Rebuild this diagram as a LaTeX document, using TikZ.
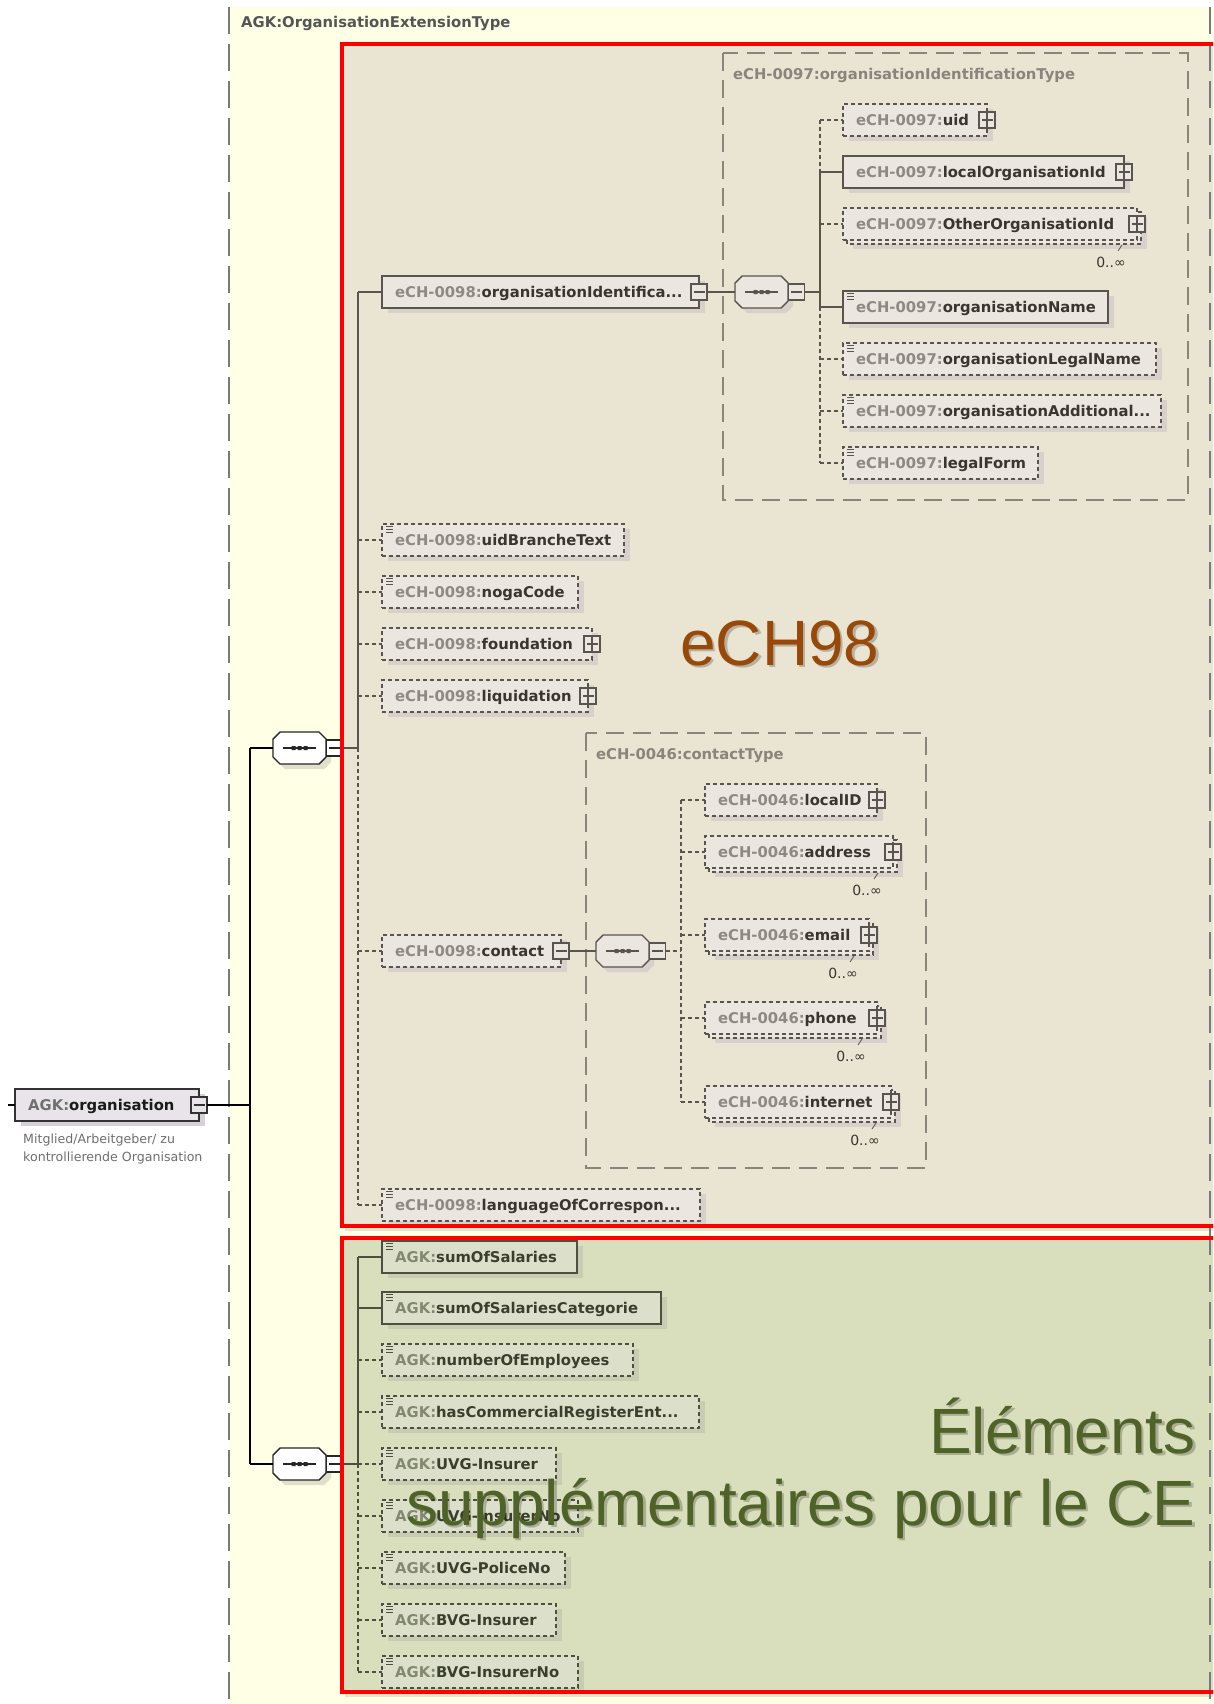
\documentclass[tikz,border=0pt]{standalone}
\usepackage{fontspec}
\setmainfont{DejaVu Sans}
\newfontfamily\slidefont{Liberation Sans}
\usetikzlibrary{calc}

\definecolor{yellowbg}{HTML}{FFFFE6}
\definecolor{beigebg}{HTML}{EAE4D2}
\definecolor{greenbg}{HTML}{D9DEBD}
\definecolor{markred}{HTML}{FF0000}
\definecolor{echbrown}{HTML}{984807}
\definecolor{olivetext}{HTML}{4F6228}
\definecolor{outerdash}{HTML}{7A7A7A}
\definecolor{typeline}{HTML}{8A847D}
\definecolor{titlecol}{HTML}{555555}
\definecolor{desccol}{HTML}{6E6E6E}
% element colours, redefined for each area
\definecolor{elfill}{HTML}{E8E4EA}
\definecolor{elshadow}{HTML}{D6D0D8}
\definecolor{elborder}{HTML}{333333}
\definecolor{elpfx}{HTML}{707070}
\definecolor{elname}{HTML}{1A1A1A}
\definecolor{elline}{HTML}{000000}

% element box without shadow
\newcommand{\xelembody}[8]{%
  \node[elbox,#6,minimum width=#4pt-#2pt,minimum height=#5pt-#3pt,anchor=north west] (#1) at (#2,#3) {};
  \node[eltext,anchor=base west] (#1-txt) at ($(#1.west)+(13,5.4)$) {\textcolor{elpfx}{#7}\textcolor{elname}{#8}};
}
% element box with shadow
\newcommand{\xelem}[8]{%
  \fill[elshadow] (#2+6,#3+5) rectangle (#4+6,#5+5);
  \xelembody{#1}{#2}{#3}{#4}{#5}{#6}{#7}{#8}%
}
% repeated element (0..unbounded)
\newcommand{\xelemS}[8]{%
  \fill[elshadow] (#2+10,#3+9) rectangle (#4+10,#5+9);
  \draw[elbox,#6] (#2+4,#3+4) rectangle (#4+4,#5+4);
  \xelembody{#1}{#2}{#3}{#4}{#5}{#6}{#7}{#8}%
  \node[occ] (#1-occ) at (#4-26,#5+22) {0..∞};
  \draw[elborder,line width=0.8pt] (#4-15,#5+5) -- (#4-19,#5+11);
}
\newcommand{\xplus}[1]{\node[plusbox] (#1-pm) at (#1.east) {};}
\newcommand{\xminus}[1]{\node[minusbox] (#1-pm) at (#1.east) {};}
\newcommand{\xdoc}[1]{\draw[elborder,line width=1pt]
  ($(#1.north west)+(4,2.5)$) -- +(7,0) ($(#1.north west)+(4,5.5)$) -- +(7,0)
  ($(#1.north west)+(4,8.5)$) -- +(7,0);}
% sequence compositor
\newcommand{\xcompo}[3]{%
  \begin{scope}[shift={(#2,#3)}]
    \fill[elshadow] (12,-11) -- (51,-11) -- (58,-4) -- (58,14) -- (51,21) -- (12,21) -- (5,14) -- (5,-4) -- cycle;
    \filldraw[fill=elfill,draw=elborder,line width=1.4pt] (7,-16) -- (46,-16) -- (53,-9) -- (53,9) -- (46,16) -- (7,16) -- (0,9) -- (0,-9) -- cycle;
    \draw[elborder,line width=1.3pt] (10,0) -- (43,0);
    \fill[elborder] (18.5,-2) rectangle (22.5,2) (24.5,-2) rectangle (28.5,2) (30.5,-2) rectangle (34.5,2);
  \end{scope}
  \node[inner sep=0pt,outer sep=0pt,minimum width=53pt,minimum height=32pt] (#1) at (#2+26.5,#3) {};
  \node[minusbox] (#1-pm) at (#2+61.5,#3) {};
}

\begin{document}
\begin{tikzpicture}[x=1pt,y=-1pt,
  elbox/.style={fill=elfill,draw=elborder,line width=1.4pt,inner sep=0pt,outer sep=0pt},
  dashbd/.style={dash pattern=on 4pt off 3pt},
  eltext/.style={inner sep=0pt,font=\fontsize{14.8}{17}\selectfont\bfseries},
  conn/.style={draw=elline,line width=1.3pt},
  dconn/.style={conn,dash pattern=on 4pt off 3pt},
  typebox/.style={draw=typeline,line width=1.4pt,dash pattern=on 18pt off 9pt},
  typetitle/.style={inner sep=0pt,anchor=base west,text=typeline,font=\fontsize{14.8}{17}\selectfont\bfseries},
  pmbox/.style={draw=elborder,fill=elfill,line width=1.1pt,minimum size=16pt,inner sep=0pt,outer sep=0pt},
  plusbox/.style={pmbox,path picture={\draw[elborder,line width=1.1pt]
      ($(path picture bounding box.west)+(2.5,0)$) -- ($(path picture bounding box.east)+(-2.5,0)$)
      (path picture bounding box.north) -- (path picture bounding box.south);}},
  minusbox/.style={pmbox,path picture={\draw[elborder,line width=1.1pt]
      ($(path picture bounding box.west)+(2.5,0)$) -- ($(path picture bounding box.east)+(-2.5,0)$);}},
  occ/.style={inner sep=0pt,text=elname,font=\fontsize{14}{16}\selectfont},
  outerdashed/.style={draw=outerdash,line width=1.5pt,dash pattern=on 27pt off 10pt},
  redframe/.style={draw=markred,line width=4pt},
  slidetext/.style={inner sep=0pt,font=\slidefont\fontsize{64}{72}\selectfont},
]
\useasboundingbox (0,0) rectangle (1213,1704);
\clip (0,0) rectangle (1213,1704);
\fill[white] (0,0) rectangle (1213,1704);

% complex type area
\fill[yellowbg] (229,7) rectangle (1213,1704);
\coordinate (ldtop) at (229,7);
\coordinate (ldbot) at (229,1704);
\draw[outerdashed] (ldtop) -- (ldbot);
\node[inner sep=0pt,anchor=base west,text=titlecol,font=\fontsize{14.8}{17}\selectfont\bfseries] (typename) at (241,27.5) {AGK:OrganisationExtensionType};

% highlighted groups
\fill[black,opacity=0.1] (345,47) rectangle (1230,1231);
\fill[beigebg] (342,44) rectangle (1230,1226);
\fill[black,opacity=0.1] (345,1241) rectangle (1230,1697);
\fill[greenbg] (342,1237.5) rectangle (1230,1692);

% ---------- root element and outer sequences ----------
\begin{scope}
\xelem{org}{15}{1089}{199}{1121}{}{AGK:}{organisation}
\xminus{org}
\node[inner sep=0pt,anchor=north west,align=left,text=desccol,font=\fontsize{12.6}{18}\selectfont] (orgdoc) at (23,1134) {Mitglied/Arbeitgeber/ zu\\kontrollierende Organisation};
\colorlet{elfill}{white}
\colorlet{elborder}{black!85}
\colorlet{elshadow}{black!12!yellowbg}
\xcompo{seqA}{273}{748}
\xcompo{seqD}{273}{1464}
\coordinate (TM) at (250,0);
\coordinate (orgstub) at (8,1105);
\draw[conn] (orgstub) -- (org.west);
\draw[conn] (org-pm.east) -- (org-pm.east -| TM);
\draw[conn] (seqA.west -| TM) -- (seqD.west -| TM);
\draw[conn] (seqA.west -| TM) -- (seqA.west);
\draw[conn] (seqD.west -| TM) -- (seqD.west);
\end{scope}

% ---------- eCH-0098 part ----------
\begin{scope}
\definecolor{elfill}{HTML}{EBE6E0}
\definecolor{elshadow}{HTML}{D8D0CB}
\definecolor{elborder}{HTML}{5A544E}
\definecolor{elpfx}{HTML}{8E8984}
\definecolor{elname}{HTML}{3A3530}
\definecolor{elline}{HTML}{5A544E}

\draw[typebox] (723,53) rectangle (1188,500);
\node[typetitle] (oidtype) at (733,79.3) {eCH-0097:organisationIdentificationType};
\draw[typebox] (586,733) rectangle (926,1168);
\node[typetitle] (contacttype) at (596,759.3) {eCH-0046:contactType};

\xelem{oid}{382}{276}{699}{308}{}{eCH-0098:}{organisationIdentifica...}
\xminus{oid}
\xelem{ubt}{382}{524}{624}{556}{dashbd}{eCH-0098:}{uidBrancheText}
\xdoc{ubt}
\xelem{noga}{382}{576}{578}{608}{dashbd}{eCH-0098:}{nogaCode}
\xdoc{noga}
\xelem{found}{382}{628}{592}{660}{dashbd}{eCH-0098:}{foundation}
\xplus{found}
\xelem{liq}{382}{680}{588}{712}{dashbd}{eCH-0098:}{liquidation}
\xplus{liq}
\xelem{contact}{382}{935}{561}{967}{dashbd}{eCH-0098:}{contact}
\xminus{contact}
\xelem{lang}{382}{1189}{700}{1221}{dashbd}{eCH-0098:}{languageOfCorrespon...}
\xdoc{lang}

% organisation identification
\xcompo{seqB}{735}{292}
\xelem{uid}{843}{104}{987}{136}{dashbd}{eCH-0097:}{uid}
\xplus{uid}
\xelem{locid}{843}{156}{1124}{188}{}{eCH-0097:}{localOrganisationId}
\xplus{locid}
\xelemS{othid}{843}{208}{1137}{240}{dashbd}{eCH-0097:}{OtherOrganisationId}
\xplus{othid}
\xelem{oname}{843}{291}{1108}{323}{}{eCH-0097:}{organisationName}
\xdoc{oname}
\xelem{lname}{843}{343}{1156}{375}{dashbd}{eCH-0097:}{organisationLegalName}
\xdoc{lname}
\xelem{aname}{843}{395}{1161}{427}{dashbd}{eCH-0097:}{organisationAdditional...}
\xdoc{aname}
\xelem{lform}{843}{447}{1038}{479}{dashbd}{eCH-0097:}{legalForm}
\xdoc{lform}

% contact
\xcompo{seqC}{596}{951}
\xelem{cid}{705}{784}{877}{816}{dashbd}{eCH-0046:}{localID}
\xplus{cid}
\xelemS{addr}{705}{836}{893}{868}{dashbd}{eCH-0046:}{address}
\xplus{addr}
\xelemS{email}{705}{919}{869}{951}{dashbd}{eCH-0046:}{email}
\xplus{email}
\xelemS{phone}{705}{1002}{877}{1034}{dashbd}{eCH-0046:}{phone}
\xplus{phone}
\xelemS{inet}{705}{1086}{891}{1118}{dashbd}{eCH-0046:}{internet}
\xplus{inet}

% connectors of the first sequence
\coordinate (TA) at (358,0);
\draw[conn] (oid.west -| TA) -- (seqA-pm.east -| TA);
\draw[dconn] (seqA-pm.east -| TA) -- (lang.west -| TA);
\draw[conn] (seqA-pm.east) -- (seqA-pm.east -| TA);
\draw[conn] (oid.west -| TA) -- (oid.west);
\foreach \e in {ubt,noga,found,liq,contact,lang}
  \draw[dconn] (\e.west -| TA) -- (\e.west);

% connectors of organisation identification
\draw[conn] (oid-pm.east) -- (seqB.west);
\coordinate (TB) at (820,0);
\draw[dconn] (uid.west -| TB) -- (locid.west -| TB);
\draw[conn] (locid.west -| TB) -- (oname.west -| TB);
\draw[dconn] (oname.west -| TB) -- (lform.west -| TB);
\draw[conn] (seqB-pm.east) -- (seqB-pm.east -| TB);
\draw[conn] (locid.west -| TB) -- (locid.west);
\draw[conn] (oname.west -| TB) -- (oname.west);
\foreach \e in {uid,othid,lname,aname,lform}
  \draw[dconn] (\e.west -| TB) -- (\e.west);

% connectors of contact
\draw[conn] (contact-pm.east) -- (seqC.west);
\coordinate (TC) at (681,0);
\draw[dconn] (cid.west -| TC) -- (inet.west -| TC);
\draw[dconn] (seqC-pm.east) -- (seqC-pm.east -| TC);
\foreach \e in {cid,addr,email,phone,inet}
  \draw[dconn] (\e.west -| TC) -- (\e.west);
\end{scope}

% ---------- additional AGK elements ----------
\begin{scope}
\definecolor{elfill}{HTML}{DCDFC9}
\definecolor{elshadow}{HTML}{C8CCB3}
\definecolor{elborder}{HTML}{4C513E}
\definecolor{elpfx}{HTML}{838970}
\definecolor{elname}{HTML}{3A3F2D}
\definecolor{elline}{HTML}{4C513E}

\xelem{sos}{382}{1241}{577}{1273}{}{AGK:}{sumOfSalaries}
\xdoc{sos}
\xelem{sosc}{382}{1292}{661}{1324}{}{AGK:}{sumOfSalariesCategorie}
\xdoc{sosc}
\xelem{noe}{382}{1344}{633}{1376}{dashbd}{AGK:}{numberOfEmployees}
\xdoc{noe}
\xelem{hcr}{382}{1396}{699}{1428}{dashbd}{AGK:}{hasCommercialRegisterEnt...}
\xdoc{hcr}
\xelem{uvgi}{382}{1448}{556}{1480}{dashbd}{AGK:}{UVG-Insurer}
\xdoc{uvgi}
\xelem{uvgn}{382}{1500}{578}{1532}{dashbd}{AGK:}{UVG-InsurerNo}
\xdoc{uvgn}
\xelem{uvgp}{382}{1552}{565}{1584}{dashbd}{AGK:}{UVG-PoliceNo}
\xdoc{uvgp}
\xelem{bvgi}{382}{1604}{556}{1636}{dashbd}{AGK:}{BVG-Insurer}
\xdoc{bvgi}
\xelem{bvgn}{382}{1656}{578}{1688}{dashbd}{AGK:}{BVG-InsurerNo}
\xdoc{bvgn}

\coordinate (TD) at (358,0);
\draw[conn] (sos.west -| TD) -- (seqD-pm.east -| TD);
\draw[dconn] (seqD-pm.east -| TD) -- (bvgn.west -| TD);
\draw[conn] (seqD-pm.east) -- (seqD-pm.east -| TD);
\draw[conn] (sos.west -| TD) -- (sos.west);
\draw[conn] (sosc.west -| TD) -- (sosc.west);
\foreach \e in {noe,hcr,uvgi,uvgn,uvgp,bvgi,bvgn}
  \draw[dconn] (\e.west -| TD) -- (\e.west);
\end{scope}

% right border of the complex type
\coordinate (rdtop) at (1210,7);
\coordinate (rdbot) at (1210,1704);
\draw[outerdashed] (rdtop) -- (rdbot);

% red frames
\draw[redframe] (342,44) rectangle (1232,1226);
\draw[redframe] (342,1237.5) rectangle (1232,1692);

% captions
\node[slidetext,anchor=base west,text=black,opacity=0.22] (t98s) at (682.5,667.5) {eCH98};
\node[slidetext,anchor=base west,text=echbrown] (t98) at (680,665) {eCH98};
\node[slidetext,anchor=base east,text=black,opacity=0.22] (tels) at (1198.5,1455.5) {Éléments};
\node[slidetext,anchor=base east,text=olivetext] (tel) at (1196,1453) {Éléments};
\node[slidetext,anchor=base east,text=black,opacity=0.22] (tsups) at (1198.5,1527.5) {supplémentaires pour le CE};
\node[slidetext,anchor=base east,text=olivetext] (tsup) at (1196,1525) {supplémentaires pour le CE};
\end{tikzpicture}
\end{document}
